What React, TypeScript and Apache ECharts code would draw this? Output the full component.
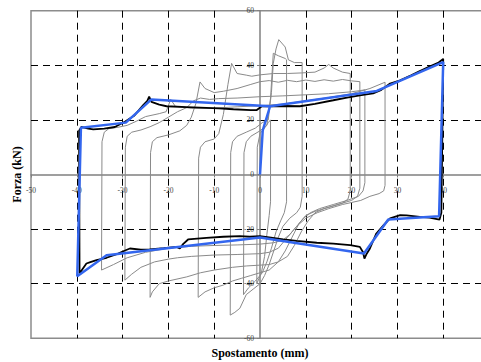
import React, { useEffect, useRef } from "react";
import * as echarts from "echarts";

// Axis ranges / ticks
const xMin = -50;
const xMax = 50;
const xStep = 10;
const yMin = -60;
const yMax = 60;
const yStep = 20;

// Blue: numerical model cycle (displacement mm, force kN)
const modelCycle: number[][] = [
  [0, 0], [0.6, 16.2], [2.2, 25.0], [25.5, 30.6], [40.0, 41.2],
  [39.1, -15.3], [28.0, -16.5], [22.7, -28.9], [0, -23.1],
  [-33.5, -29.6], [-39.9, -37.3], [-39.1, 17.1], [-29.3, 19.0],
  [-23.7, 27.5], [2.2, 25.0],
];

// Black: experimental cycle at 40 mm
const testCycle40: number[][] = [
  [-39.4, -36.3], [-39.5, 16], [-39, 17.4], [-37.5, 16.8], [-36.4, 16.5], [-34, 16.8],
  [-31.7, 17.4], [-29.5, 19.3], [-27.5, 21.5], [-25.5, 25.4], [-24.6, 27], [-24.2, 28.5],
  [-23.7, 26.6], [-22, 25.6], [-20.4, 25.0], [-16, 24.7], [-13.1, 24.5], [-9, 24.2],
  [-5.8, 23.9], [-2, 23.6], [-0.7, 23.6], [0.4, 25], [1.5, 25.0], [5, 25.1], [8.7, 25.0],
  [12, 25.9], [16, 27.2], [19, 28.2], [21.8, 29.0], [24.7, 29.7], [26.5, 31], [28.4, 33.3],
  [30.6, 34.5], [33, 36.3], [34.9, 37.9], [37, 39.5], [39, 41], [40, 42.3], [40, 40],
  [39.6, -14], [39.2, -16.5], [37, -15.8], [34.9, -15.5], [32, -15], [30.6, -14.9],
  [28.4, -16.1], [27, -18.5], [25.4, -21.6], [24, -27.1], [23.3, -29], [22.8, -30.8],
  [22.5, -28.5], [21.8, -26.5], [19.7, -25.9], [16, -25.3], [12.4, -25.0], [8, -24.3],
  [5.1, -23.8], [2, -23], [0, -22.6], [-2.2, -22.8], [-4.4, -22.6], [-8, -22.8],
  [-11.7, -23.2], [-15.7, -23.8], [-16.8, -25.5], [-17.5, -27.1], [-18.2, -26.5],
  [-21, -27], [-24.1, -27.4], [-26, -27.5], [-28.4, -27.1], [-30, -28.2], [-31.3, -29.2],
  [-33.5, -30.5], [-35.7, -31.4], [-37.2, -32.2], [-37.9, -32.6], [-38.7, -34.5], [-39.4, -36.3],
];

// Grey: previous experimental cycles
const cycleA: number[][] = [
  [-34.6, -35], [-34.5, 12], [-34, 15.5], [-33, 16.8], [-31, 17.3], [-29, 18], [-27, 19.5],
  [-25, 21.2], [-22, 22.3], [-20.5, 23], [-19.5, 27.5], [-18.5, 25], [-15, 24.3], [-10, 24.3],
  [-5, 24.8], [0, 25.2], [5, 25.8], [10, 27], [15, 28.2], [20, 29.6], [24, 31.5], [27.3, 33.8],
  [27.3, -4], [27, -6], [26, -7], [24, -8], [22, -9.5], [18, -11], [15, -12.5], [12.5, -14],
  [10, -16], [8, -19], [6.5, -22], [5, -24], [3, -25], [0, -25.5], [-5, -25.8], [-10, -26],
  [-15, -26.3], [-20, -27], [-25, -28.5], [-29, -30.5], [-32, -33], [-34.6, -35],
];
const cycleB: number[][] = [
  [-29.5, -38.7], [-29.4, 10], [-29, 14], [-28, 15.5], [-26, 16.3], [-24, 17.5], [-22, 19],
  [-20, 21], [-18, 23], [-16, 24.5], [-14.5, 27], [-13, 28], [-11, 27.5], [-9, 27.8], [-5, 28],
  [0, 28.5], [5, 28.8], [10, 29.2], [15, 29.6], [20, 30.3], [22.9, 31],
  [22.9, -3], [22.5, -6], [21.5, -8], [19, -9.5], [16, -11], [13, -12.5], [11, -14], [9.5, -16],
  [8, -19], [6, -23], [4, -27], [2, -28.5], [0, -29], [-5, -29.3], [-10, -29.5], [-15, -30],
  [-18, -30.5], [-20, -31], [-23, -32], [-26, -34], [-28, -36.5], [-29.5, -38.7],
];
const cycleC: number[][] = [
  [-24, -45], [-23.9, 8], [-23.5, 12], [-22.5, 13.5], [-20, 14.5], [-17.5, 16], [-16, 18],
  [-15, 21], [-14, 26], [-13.1, 33.9], [-12, 31.5], [-10, 30], [-8, 30.5], [-5, 31.5],
  [-2, 33], [0, 34], [2, 34.4], [4, 33.8], [6, 34.5], [8, 34], [10, 34.6], [12, 34.1],
  [14, 34.7], [16, 34.2], [18, 34.8], [20, 34.3], [21.8, 34],
  [21.8, -5], [21.3, -8], [20, -9.5], [17, -11], [14, -12.5], [12, -14], [10.5, -17], [9, -21],
  [7.5, -26], [6, -30], [4, -32], [2, -33], [0, -33.2], [-3, -33.5], [-6, -34], [-10, -35],
  [-13, -36], [-16, -37.5], [-20, -39], [-22, -40], [-23.5, -43], [-24, -45],
];
const cycleD: number[][] = [
  [-13.5, -45], [-13.4, 6], [-13, 10], [-12, 12], [-10, 13], [-9, 15], [-8, 22], [-7, 33],
  [-6.2, 40.7], [-5, 37], [-3, 36.4], [-1.8, 36], [0, 36.5], [3, 37], [6, 37], [9, 37.2],
  [12, 37.5], [14, 39], [15, 40.3], [16, 39], [18, 37.5], [19.7, 37],
  [19.7, -6], [19.2, -9], [18, -10.5], [15, -12], [12, -13.5], [10, -15], [8.5, -18], [7, -23],
  [5.5, -28], [4, -32], [2, -35], [0, -36], [-2, -37], [-4, -38], [-6, -39], [-8, -40.5],
  [-10, -41.5], [-12, -43], [-13.5, -45],
];
const cycleE: number[][] = [
  [-6.5, -51.5], [-6.4, 8], [-6, 12], [-5, 14], [-3, 15.5], [-1, 17], [0.5, 19], [1.8, 20],
  [2.5, 30], [2.9, 40.7], [3.5, 46], [4.1, 49.4], [5.5, 46.7], [6.2, 42], [7.5, 41], [9.2, 41],
  [9.2, -8], [8.8, -12], [8, -14], [6.5, -16], [5, -19], [4, -23], [3, -28], [2, -33], [1, -37],
  [0, -40], [-1.5, -42], [-3, -44], [-4.4, -49], [-5.5, -50.5], [-6.5, -51.5],
];
const cycleF: number[][] = [
  [-3.6, -44], [-3.5, 8], [-3, 12], [-2, 14], [0, 16], [1.5, 18], [2.3, 28], [2.9, 44.4],
  [4, 43.5], [5.5, 42.5], [5.8, 42],
  [5.8, -10], [5.3, -14], [4.5, -17], [3.5, -21], [2.5, -27], [1.5, -32], [0.5, -36], [-1, -39],
  [-2.5, -41.5], [-3.6, -44],
];
const cycleG: number[][] = [
  [-0.7, -40], [-0.6, 10], [0, 15], [1, 17], [1.8, 19], [2.3, 20],
  [2.3, -10], [2, -15], [1.5, -22], [1, -30], [0.3, -36], [-0.7, -40],
];

const greyCycles = [cycleA, cycleB, cycleC, cycleD, cycleE, cycleF, cycleG];

const SERIF = "'Liberation Serif', 'Times New Roman', serif";
const T = "rgba(0,0,0,0)";

// plot box (px)
const GL = 31;
const GT = 10.7;
const GW = 458;
const GH = 327.6;

export default function App() {
  const ref = useRef<HTMLDivElement>(null);
  useEffect(() => {
    const chart = echarts.init(ref.current!, null, { renderer: "svg" });
    const greySeries = greyCycles.map((d) => ({
      type: "line",
      data: d,
      showSymbol: false,
      symbol: "none",
      lineStyle: { color: "#8a8a8a", width: 1 },
      z: 2,
    }));
    // axes are drawn through the zero point of the other axis
    const xOffset = -GH * ((0 - yMin) / (yMax - yMin));
    const yOffset = -GW * ((0 - xMin) / (xMax - xMin));
    chart.setOption({
      animation: false,
      backgroundColor: "#fff",
      grid: {
        left: GL,
        top: GT,
        width: GW,
        height: GH,
        containLabel: false,
        outerBoundsMode: "none",
        show: true,
        borderColor: "#8c8c8c",
        borderWidth: 1.5,
        backgroundColor: "#fff",
      },
      xAxis: {
        type: "value",
        position: "bottom",
        offset: xOffset,
        min: xMin,
        max: xMax,
        interval: xStep,
        name: "Spostamento (mm)",
        nameLocation: "middle",
        nameGap: 172,
        nameMoveOverlap: false,
        nameTextStyle: { fontFamily: SERIF, fontWeight: "bold", fontSize: 12, color: "#000" },
        axisLine: { onZero: false, lineStyle: { color: "#808080", width: 1.5 } },
        axisTick: { show: true, length: 3, lineStyle: { color: "#808080" } },
        axisLabel: {
          fontFamily: SERIF,
          fontSize: 7.5,
          color: "#444",
          margin: 12,
          showMaxLabel: false,
        },
        splitLine: {
          show: true,
          lineStyle: {
            color: [T, "#000", "#000", "#000", "#000", T, "#000", "#000", "#000", "#000", T],
            type: [7, 5],
            width: 1,
          },
        },
      },
      yAxis: {
        type: "value",
        position: "left",
        offset: yOffset,
        min: yMin,
        max: yMax,
        interval: yStep,
        name: "Forza (kN)",
        nameLocation: "middle",
        nameGap: 237,
        nameMoveOverlap: false,
        nameTextStyle: { fontFamily: SERIF, fontWeight: "bold", fontSize: 12, color: "#000" },
        axisLine: { onZero: false, lineStyle: { color: "#808080", width: 1.5 } },
        axisTick: { show: true, length: 3, lineStyle: { color: "#808080" } },
        axisLabel: { fontFamily: SERIF, fontSize: 7.5, color: "#444", margin: 6 },
        splitLine: {
          show: true,
          lineStyle: {
            color: [T, "#000", "#000", T, "#000", "#000", T],
            type: [7, 5],
            width: 1,
          },
        },
      },
      series: [
        ...greySeries,
        {
          type: "line",
          data: testCycle40,
          showSymbol: false,
          symbol: "none",
          lineStyle: { color: "#000", width: 1.8 },
          z: 3,
        },
        {
          type: "line",
          data: modelCycle,
          showSymbol: false,
          symbol: "none",
          lineStyle: { color: "#3366ee", width: 2.5 },
          z: 4,
        },
      ],
    });
    return () => chart.dispose();
  }, []);
  return (
    <div
      ref={ref}
      style={{ position: "fixed", left: 0, top: 0, width: 481, height: 362 }}
    />
  );
}
